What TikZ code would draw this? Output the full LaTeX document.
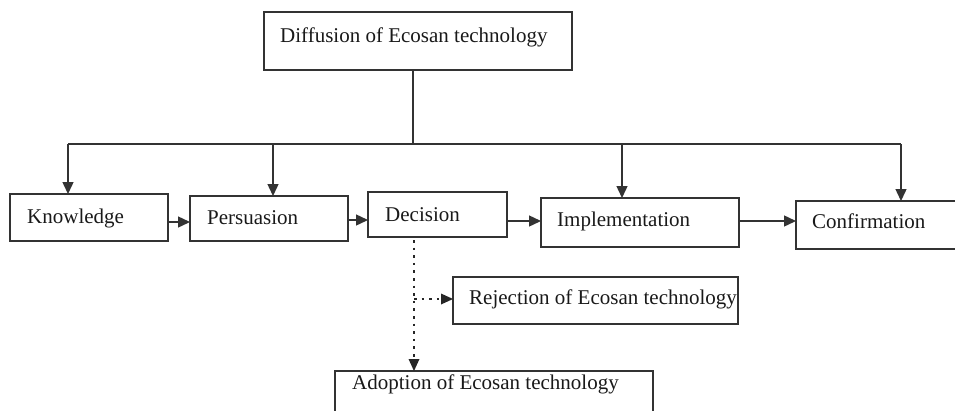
\documentclass[tikz,border=0pt]{standalone}
\usepackage{fontspec}
\setmainfont{Liberation Serif}
\usetikzlibrary{arrows.meta}
\begin{document}
\begin{tikzpicture}[x=1pt,y=-1pt,
  box/.style={draw=black!80, line width=1.4pt, rectangle, inner sep=0pt, outer sep=0pt, anchor=north west},
  lbl/.style={anchor=base west, inner sep=0pt, font=\fontsize{21}{25}\selectfont, text=black!90},
  conn/.style={draw=black!80, line width=1.4pt},
  arr/.style={conn, -{Triangle[length=12pt,width=11pt]}},
  dotarr/.style={draw=black!85, line width=2.6pt, dash pattern=on 2.6pt off 5pt, -{Triangle[length=12pt,width=11pt,line width=0pt]}}
]
\useasboundingbox (0,0) rectangle (955,410);
\clip (0,0) rectangle (955,410);
% boxes
\node[box, minimum width=308pt, minimum height=58pt] (diff) at (264,12) {};
\node[box, minimum width=158pt, minimum height=47pt] (k) at (10,194) {};
\node[box, minimum width=158pt, minimum height=45pt] (p) at (190,196) {};
\node[box, minimum width=139pt, minimum height=45pt] (dec) at (368,192) {};
\node[box, minimum width=198pt, minimum height=49pt] (imp) at (541,198) {};
\node[box, minimum width=175pt, minimum height=48pt] (conf) at (796,201) {};
\node[box, minimum width=285pt, minimum height=47pt] (rej) at (453,277) {};
\node[box, minimum width=318pt, minimum height=55pt] (ad) at (335,371) {};
% labels
\node[lbl] (tdiff) at (280,42) {Diffusion of Ecosan technology};
\node[lbl] (tk) at (27,223) {Knowledge};
\node[lbl] (tp) at (207,224) {Persuasion};
\node[lbl] (tdec) at (385,221) {Decision};
\node[lbl] (timp) at (557,226) {Implementation};
\node[lbl] (tconf) at (812,228) {Confirmation};
\node[lbl] (trej) at (469,304) {Rejection of Ecosan technology};
\node[lbl] (tad) at (352,389) {Adoption of Ecosan technology};
% bus
\coordinate (bus) at (413,144);
\coordinate (bk) at (68,144);
\coordinate (bp) at (273,144);
\coordinate (bi) at (622,144);
\coordinate (bc) at (901,144);
\draw[conn] (diff.south -| bus) -- (bus);
\draw[conn] (bk) -- (bc);
\draw[arr] (bk) -- (bk |- k.north);
\draw[arr] (bp) -- (bp |- p.north);
\draw[arr] (bi) -- (bi |- imp.north);
\draw[arr] (bc) -- (bc |- conf.north);
% horizontal arrows
\draw[arr] (k.east |- 0,222) -- (p.west |- 0,222);
\draw[arr] (p.east |- 0,220) -- (dec.west |- 0,220);
\draw[arr] (dec.east |- 0,221) -- (imp.west |- 0,221);
\draw[arr] (imp.east |- 0,221) -- (conf.west |- 0,221);
% dotted
\coordinate (dd) at (414,240);
\coordinate (split) at (414,299);
\draw[dotarr] (dd) -- (dd |- ad.north);
\draw[dotarr] (split) -- (rej.west |- split);
\end{tikzpicture}
\end{document}
